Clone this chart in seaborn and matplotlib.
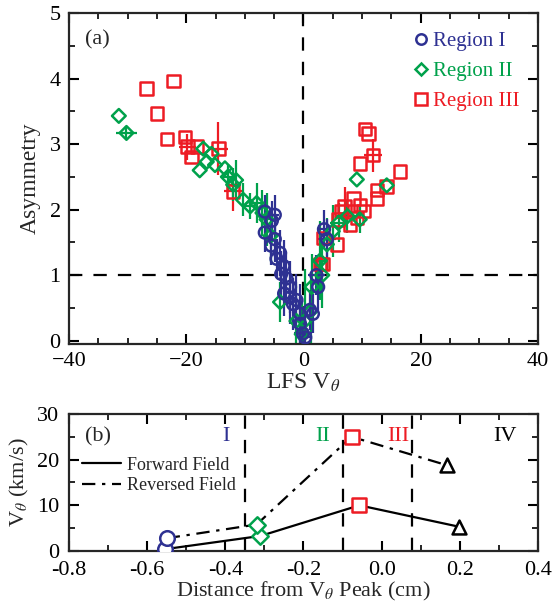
import numpy as np
import pandas as pd
import matplotlib as mpl
import matplotlib.pyplot as plt
from matplotlib.lines import Line2D
import seaborn as sns

# ---- panel (a) data: LFS V_theta vs asymmetry ----
r1_x = [-6.6, -4.9, -5.4, -6.6, -4.9, -5.5, -4.0, -4.6, -3.4, -3.8, -2.9, -2.3, -3.3, -2.3,
        -1.8, -1.2, -0.6, -0.6, -0.1, 0.3, 1.1, 1.6, 2.5, 2.2, 4.0, 3.5]
r1_y = [1.97, 1.92, 1.83, 1.65, 1.55, 1.45, 1.34, 1.25, 1.14, 1.02, 0.95, 0.82, 0.72, 0.66,
        0.56, 0.62, 0.41, 0.26, 0.11, 0.05, 0.47, 0.41, 0.82, 1.00, 1.55, 1.70]
r1_xerr = [0, 0.8, 0, 0, 0, 0, 0, 0, 0, 0, 0, 0, 0, 0,
           0, 0, 0, 0, 1.5, 1.0, 0, 0, 0, 1.5, 1.5, 1.2]
r1_yerr = [0.25, 0.3, 0.3, 0.3, 0.35, 0.3, 0.35, 0.3, 0.4, 0.35, 0.4, 0.4, 0.35, 0.4,
           0.4, 0.4, 0.45, 0.4, 0.4, 0.3, 0.3, 0.3, 0.35, 0.3, 0.3, 0.3]

r2_x = [-31.5, -30.2, -17.1, -16.5, -17.7, -15.7, -15.1, -13.4, -12.9, -12.0, -11.5, -10.3,
        -9.1, -8.0, -7.0, -6.3, -5.6, -4.0, -1.2, -0.3, 0.2, 1.2, 1.4, 2.8, 3.2, 4.0, 5.0,
        6.0, 7.5, 9.6, 9.1, 14.2]
r2_y = [3.43, 3.17, 2.93, 2.73, 2.60, 2.85, 2.68, 2.63, 2.50, 2.38, 2.45, 2.15,
        2.05, 2.10, 1.95, 1.85, 1.60, 0.59, 0.30, 0.10, 0.30, 0.45, 0.82, 1.22, 1.00, 1.47, 1.67,
        1.80, 1.90, 1.85, 2.46, 2.37]
r2_xerr = [0, 1.8, 0, 0, 0, 0, 0, 0, 0.8, 1.0, 0, 0,
           0.8, 1.0, 0, 1.0, 0, 0, 0, 1.2, 0, 0, 0, 1.0, 0, 1.2, 0,
           1.5, 2.0, 0, 0, 0]
r2_yerr = [0, 0.1, 0, 0, 0, 0, 0, 0, 0.2, 0.25, 0.3, 0.25,
           0.2, 0.3, 0.35, 0.4, 0.4, 0.3, 0.6, 0.5, 0.8, 0.6, 0.5, 0.6, 0.5, 0.4, 0.4,
           0.3, 0.25, 0.2, 0, 0]

r3_x = [-26.8, -22.2, -25.0, -23.3, -20.2, -19.8, -18.2, -19.1, -14.5, -12.0,
        3.3, 3.3, 5.7, 5.9, 6.5, 7.9, 8.5, 9.1, 9.6, 10.2, 9.6, 10.5, 11.1, 11.9,
        12.5, 12.5, 14.2, 16.5, 7.0, 2.8]
r3_y = [3.85, 3.96, 3.47, 3.08, 3.11, 2.96, 2.96, 2.80, 2.93, 2.28,
        1.17, 1.57, 1.47, 1.85, 1.98, 1.77, 2.17, 1.87, 2.07, 1.98, 2.70, 3.23, 3.16, 2.83,
        2.30, 2.17, 2.35, 2.58, 2.05, 1.17]
r3_xerr = [0, 0, 0, 0, 0, 1.5, 0, 0, 1.7, 1.5,
           0, 0, 0, 0, 0, 0, 0, 0, 0, 0, 0, 0, 0, 1.5,
           0, 0, 0, 0, 0, 0]
r3_yerr = [0, 0, 0, 0, 0, 0.2, 0, 0, 0.4, 0.3,
           0, 0, 0, 0, 0, 0, 0, 0, 0, 0, 0, 0, 0, 0.25,
           0, 0, 0, 0, 0.3, 0]

# ---- panel (b) data: V_theta vs distance from peak ----
fwd_x = [-0.555, -0.31, -0.057, 0.199]
fwd_y = [0.4, 3.3, 10.0, 5.3]
rev_x = [-0.55, -0.32, -0.077, 0.166]
rev_y = [2.8, 5.8, 25.0, 18.8]
pt_region = ["I", "II", "III", "IV"]
region_lbl_x = [-0.398, -0.151, 0.043, 0.316]
dash_x = [-0.35, -0.10, 0.077]

blue = "#2E3192"
green = "#00A14B"
red = "#ED1C24"
reg_colors = {"I": blue, "II": green, "III": red, "IV": "black"}
reg_markers = {"I": "o", "II": "D", "III": "s", "IV": "^"}
reg_sizes = {"I": 110, "II": 70, "III": 110, "IV": 100}

sns.set_style("ticks")
plt.rcParams["font.family"] = ["Liberation Serif", "DejaVu Serif"]
plt.rcParams["mathtext.fontset"] = "stix"
plt.rcParams["font.size"] = 14
plt.rcParams["axes.linewidth"] = 1.6
for a in ["xtick", "ytick"]:
    plt.rcParams[a + ".direction"] = "in"
    plt.rcParams[a + ".major.size"] = 7
    plt.rcParams[a + ".minor.size"] = 4
    plt.rcParams[a + ".major.width"] = 1.5
    plt.rcParams[a + ".minor.width"] = 1.2
    plt.rcParams[a + ".color"] = "black"
    plt.rcParams[a + ".labelsize"] = 16
plt.rcParams["xtick.major.pad"] = 6
plt.rcParams["ytick.major.pad"] = 6
plt.rcParams["xtick.top"] = True
plt.rcParams["ytick.right"] = True

fig = plt.figure(figsize=(5.53, 6.04), dpi=100)
ax1 = fig.add_axes([0.1248, 0.4305, 0.848, 0.548])
ax2 = fig.add_axes([0.1248, 0.0877, 0.848, 0.227])

regions = [
    ("Region III", r3_x, r3_y, r3_xerr, r3_yerr, red, "s", 9),
    ("Region II", r2_x, r2_y, r2_xerr, r2_yerr, green, "D", 7),
    ("Region I", r1_x, r1_y, r1_xerr, r1_yerr, blue, "o", 8.5),
]
for name, x, y, xe, ye, c, m, ms in regions:
    df = pd.DataFrame({"x": x, "y": y, "xerr": xe, "yerr": ye})
    ax1.errorbar(df["x"], df["y"], xerr=df["xerr"], yerr=df["yerr"], fmt="none",
                 ecolor=c, elinewidth=1.6, capsize=0, zorder=2)
    sns.scatterplot(data=df, x="x", y="y", ax=ax1, marker=m, s=ms ** 2,
                    facecolor="none", edgecolor=c, linewidth=1.8, zorder=3)

ax1.axhline(1, color="black", lw=1.6, ls=(0, (6, 5)), zorder=1)
ax1.axvline(0, color="black", lw=1.6, ls=(0, (6, 5)), zorder=1)
ax1.set_xlim(-40, 40)
ax1.set_ylim(-0.05, 5)
ax1.set_xticks([-40, -20, 0, 20, 40])
ax1.set_yticks([0, 1, 2, 3, 4, 5])
ax1.xaxis.set_minor_locator(mpl.ticker.MultipleLocator(5))
ax1.yaxis.set_minor_locator(mpl.ticker.MultipleLocator(0.5))
ax1.set_xlabel("LFS V$_\\theta$", fontsize=17, labelpad=0)
ax1.set_ylabel("Asymmetry", fontsize=17, labelpad=6)
ax1.text(0.035, 0.905, "(a)", transform=ax1.transAxes, fontsize=16)

handles = [Line2D([], [], ls="none", marker=m, markersize=ms - 1, markerfacecolor="none",
                  markeredgecolor=c, markeredgewidth=1.8)
           for name, x, y, xe, ye, c, m, ms in regions[::-1]]
ax1.legend(handles, ["Region I", "Region II", "Region III"], loc="upper right",
           frameon=False, fontsize=15, handletextpad=0.05, handlelength=1.0,
           labelcolor=[blue, green, red], borderaxespad=0.5, labelspacing=0.5)

# ---- panel (b) ----
lines = pd.DataFrame({"x": fwd_x + rev_x, "y": fwd_y + rev_y,
                      "field": ["Forward Field"] * 4 + ["Reversed Field"] * 4,
                      "region": pt_region * 2})
sns.lineplot(data=lines, x="x", y="y", style="field", dashes={"Forward Field": "",
             "Reversed Field": (6, 3, 1.5, 3)}, color="black", lw=1.6, sort=False,
             estimator=None, ax=ax2, legend=False, zorder=2)
for reg in pt_region:
    sub = lines[lines["region"] == reg]
    sns.scatterplot(data=sub, x="x", y="y", marker=reg_markers[reg], s=reg_sizes[reg],
                    facecolor="white", edgecolor=reg_colors[reg], linewidth=1.8,
                    ax=ax2, zorder=3)

for dx in dash_x:
    ax2.axvline(dx, color="black", lw=1.6, ls=(0, (6, 5)), zorder=1)
for lx, reg in zip(region_lbl_x, pt_region):
    ax2.text(lx, 25, reg, color=reg_colors[reg], ha="center", va="center", fontsize=16)

ax2.set_xlim(-0.8, 0.4)
ax2.set_ylim(0, 30)
ax2.set_xticks(np.round(np.arange(-0.8, 0.41, 0.2), 1))
ax2.set_xticklabels(["-0.8", "-0.6", "-0.4", "-0.2", "0.0", "0.2", "0.4"])
ax2.set_yticks([0, 10, 20, 30])
ax2.xaxis.set_minor_locator(mpl.ticker.MultipleLocator(0.1))
ax2.yaxis.set_minor_locator(mpl.ticker.MultipleLocator(5))
ax2.tick_params(axis="x", which="major", pad=7)
ax2.tick_params(axis="y", which="major", pad=7)
ax2.set_xlabel("Distance from V$_\\theta$ Peak (cm)", fontsize=16, labelpad=0)
ax2.set_ylabel("V$_\\theta$ (km/s)", fontsize=16, labelpad=4)
ax2.text(0.035, 0.8, "(b)", transform=ax2.transAxes, fontsize=16)

lh = [Line2D([], [], color="black", lw=1.6),
      Line2D([], [], color="black", lw=1.6, ls=(0, (6, 3, 1.5, 3)))]
ax2.legend(lh, ["Forward Field", "Reversed Field"], loc="upper left",
           bbox_to_anchor=(0.0, 0.78), frameon=False, fontsize=13,
           handlelength=2.2, handletextpad=0.3, labelspacing=0.2, borderaxespad=0.3)

fig.savefig("out.png", dpi=100)
